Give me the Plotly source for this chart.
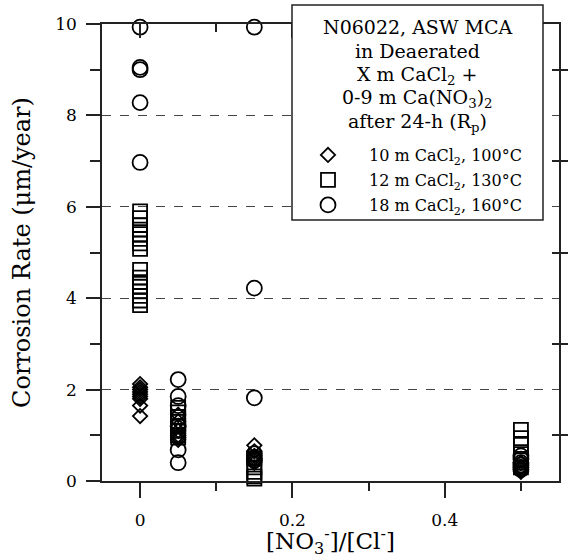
import plotly.graph_objects as go

# ---- data ----
ratio_10m = [0, 0, 0, 0, 0, 0, 0, 0, 0,
             0.05, 0.05, 0.05, 0.05, 0.05, 0.05, 0.05,
             0.15, 0.15, 0.15, 0.15, 0.15, 0.15,
             0.5, 0.5, 0.5, 0.5]
rate_10m = [2.12, 2.05, 2.0, 1.95, 1.9, 1.85, 1.8, 1.65, 1.42,
            1.45, 1.3, 1.2, 1.1, 1.0, 0.95, 0.9,
            0.78, 0.65, 0.55, 0.5, 0.45, 0.4,
            0.4, 0.3, 0.25, 0.2]

ratio_12m = [0, 0, 0, 0, 0, 0, 0, 0, 0, 0, 0, 0, 0, 0, 0, 0,
             0.05, 0.05, 0.05, 0.05, 0.05, 0.05, 0.05, 0.05,
             0.15, 0.15, 0.15, 0.15, 0.15,
             0.5, 0.5, 0.5, 0.5, 0.5, 0.5]
rate_12m = [5.9, 5.75, 5.6, 5.5, 5.4, 5.3, 5.2, 5.08, 4.62, 4.45, 4.35, 4.25, 4.15, 4.05, 3.95, 3.85,
            1.6, 1.5, 1.4, 1.3, 1.2, 1.1, 1.0, 0.95,
            0.5, 0.3, 0.2, 0.1, 0.05,
            1.12, 0.94, 0.79, 0.59, 0.45, 0.3]

ratio_18m = [0, 0, 0, 0, 0,
             0.05, 0.05, 0.05, 0.05, 0.05, 0.05,
             0.15, 0.15, 0.15, 0.15, 0.15, 0.15,
             0.5, 0.5, 0.5, 0.5, 0.5, 0.5]
rate_18m = [9.93, 9.05, 9.0, 8.28, 6.97,
            2.22, 1.85, 1.65, 1.2, 0.68, 0.4,
            9.93, 4.22, 1.82, 0.6, 0.5, 0.45,
            0.55, 0.48, 0.4, 0.35, 0.3, 0.25]

series_names = ["10 m CaCl<sub>2</sub>, 100°C",
                "12 m CaCl<sub>2</sub>, 130°C",
                "18 m CaCl<sub>2</sub>, 160°C"]
title_lines = ["N06022, ASW MCA", "in Deaerated", "X m CaCl<sub>2</sub> +",
               "0-9 m Ca(NO<sub>3</sub>)<sub>2</sub>", "after 24-h (R<sub>p</sub>)"]
x_tickvals = [0, 0.2, 0.4]
x_ticktext = ["0", "0.2", "0.4"]
y_tickvals = [0, 2, 4, 6, 8, 10]

FONT = "DejaVu Serif"
W, H = 571, 558
L, R, T, B = 102, 12, 24, 77
PW, PH = W - L - R, H - T - B


def px(xp):
    return (xp - L) / PW


def py(yp):
    return (H - B - yp) / PH


fig = go.Figure()
symbols = ["diamond-open", "square-open", "circle-open"]
sizes = [11, 14, 15]
xs = [ratio_10m, ratio_12m, ratio_18m]
ys = [rate_10m, rate_12m, rate_18m]
legends = ["legend", "legend2", "legend3"]
for i in range(3):
    fig.add_trace(go.Scatter(
        x=xs[i], y=ys[i], mode="markers", name=series_names[i],
        legend=legends[i], cliponaxis=False,
        marker=dict(symbol=symbols[i], size=sizes[i], color="black",
                    line=dict(width=1.8, color="black")),
    ))

axis_line = dict(showline=True, linecolor="#222", linewidth=1.5, automargin=False)
fig.update_layout(
    width=W, height=H,
    margin=dict(l=L, r=R, t=T, b=B, autoexpand=False),
    paper_bgcolor="white", plot_bgcolor="white",
    font=dict(family=FONT, color="black", size=17),
    xaxis=dict(range=[-0.05, 0.55], tickvals=x_tickvals, ticktext=x_ticktext,
               ticks="outside", ticklen=15, tickwidth=1.5, tickcolor="#222",
               minor=dict(tickvals=[0.1, 0.3, 0.5], ticks="outside", ticklen=8,
                          tickwidth=1.5, tickcolor="#222"),
               showgrid=False, zeroline=False, **axis_line,
               tickfont=dict(size=17, family=FONT), ticklabelstandoff=8,
               title=dict(text="[NO<sub>3</sub><sup>-</sup>]/[Cl<sup>-</sup>]",
                          font=dict(size=23, family=FONT), standoff=0)),
    xaxis2=dict(range=[-0.05, 0.55], overlaying="x", side="top",
                tickvals=x_tickvals, ticks="inside", ticklen=14, tickwidth=1.5,
                tickcolor="#222", showticklabels=False,
                minor=dict(tickvals=[0.1, 0.3, 0.5], ticks="inside", ticklen=8,
                           tickwidth=1.5, tickcolor="#222"),
                showgrid=False, zeroline=False, **axis_line),
    yaxis=dict(range=[0, 10], tickvals=y_tickvals,
               ticks="outside", ticklen=14, tickwidth=1.5, tickcolor="#222",
               minor=dict(tickvals=[1, 3, 5, 7, 9], ticks="outside", ticklen=10,
                          tickwidth=1.5, tickcolor="#222"),
               showgrid=True, gridcolor="#444", gridwidth=1.3, griddash="dash",
               zeroline=False, **axis_line,
               tickfont=dict(size=17, family=FONT), ticklabelstandoff=6,
               title=dict(text="Corrosion Rate (μm/year)",
                          font=dict(size=24, family=FONT), standoff=18)),
    yaxis2=dict(range=[0, 10], overlaying="y", side="right",
                tickvals=[1, 3, 5, 7, 9], ticks="inside", ticklen=7, tickwidth=1.5,
                tickcolor="#222", showticklabels=False, showgrid=False,
                zeroline=False, **axis_line),
    yaxis3=dict(range=[0, 10], overlaying="y", side="right",
                tickvals=[1, 3, 5, 7, 9], ticks="outside", ticklen=7, tickwidth=1.5,
                tickcolor="#222", showticklabels=False, showgrid=False,
                zeroline=False, **axis_line),
    showlegend=True,
)

# invisible traces so overlay axes are drawn
fig.add_trace(go.Scatter(x=[None], y=[None], xaxis="x2", yaxis="y2",
                         showlegend=False, hoverinfo="skip"))
fig.add_trace(go.Scatter(x=[None], y=[None], xaxis="x2", yaxis="y3",
                         showlegend=False, hoverinfo="skip"))

# legend box
fig.add_shape(type="rect", xref="paper", yref="paper",
              x0=px(292), x1=px(543), y0=py(220), y1=py(5),
              line=dict(color="#222", width=1.5), fillcolor="white", layer="above")

title_y = [27, 51, 75, 99, 123]
for txt, yy in zip(title_lines, title_y):
    fig.add_annotation(text=txt, xref="paper", yref="paper",
                       x=px(417.5), y=py(yy), xanchor="center", yanchor="middle",
                       showarrow=False, font=dict(size=19, family=FONT))

legend_y = [155, 180, 205]
leg_common = dict(bgcolor="rgba(0,0,0,0)", borderwidth=0, itemwidth=72,
                  font=dict(size=16, family=FONT), xanchor="left",
                  yanchor="middle", x=px(287))
fig.update_layout(
    legend=dict(y=py(legend_y[0]), **leg_common),
    legend2=dict(y=py(legend_y[1]), **leg_common),
    legend3=dict(y=py(legend_y[2]), **leg_common),
)

fig.write_html("out.html", config={"displayModeBar": False},
               post_script="document.body.style.margin='0px';")
